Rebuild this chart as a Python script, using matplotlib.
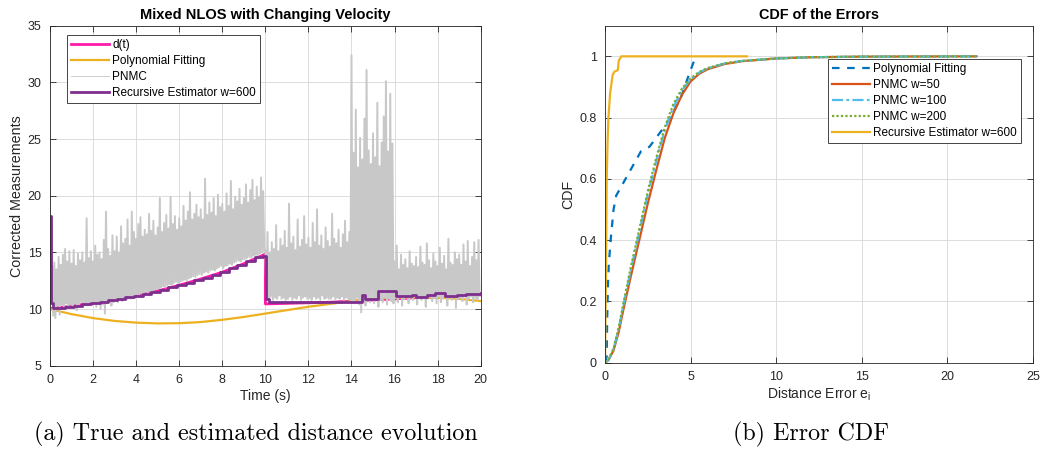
import numpy as np
import matplotlib
matplotlib.use("Agg")
from matplotlib import pyplot as plt

plt.rcParams["font.family"] = ["Liberation Sans", "DejaVu Sans"]
plt.rcParams["mathtext.default"] = "regular"

# ---- panel (a): distance evolution ----
d_t = [0, 1, 2, 3, 4, 5, 6, 7, 8, 9, 10, 10, 11, 12, 13, 14, 15, 16, 17, 18, 19, 20]
d_v = [10.05, 10.25, 10.55, 10.85, 11.2, 11.6, 12.1, 12.65, 13.25, 14.0, 14.85,
       10.45, 10.5, 10.55, 10.6, 10.7, 10.8, 10.9, 11.0, 11.05, 11.15, 11.25]

poly_t = list(range(21))
poly_v = [10.0, 9.55, 9.2, 8.95, 8.8, 8.73, 8.75, 8.85, 9.05, 9.3, 9.6,
          9.9, 10.2, 10.45, 10.7, 10.9, 11.0, 11.05, 11.0, 10.9, 10.7]

# PNMC: picos y valles leidos cada 0.1 s
pnmc_picos = [
    13.2, 13.8, 14.1, 13.5, 14.6, 13.9, 14.8, 15.3, 14.2, 15.1,
    14.0, 15.2, 13.8, 14.9, 14.3, 15.0, 14.1, 18.0, 14.5, 15.1,
    14.2, 15.6, 14.8, 15.0, 14.4, 16.1, 18.6, 15.3, 14.7, 16.5,
    15.1, 16.4, 15.0, 17.3, 15.8, 16.2, 17.9, 15.6, 18.6, 16.8,
    16.2, 17.5, 18.1, 16.4, 17.0, 16.6, 18.4, 16.9, 17.8, 16.5,
    17.2, 19.8, 16.8, 17.6, 18.3, 17.1, 19.9, 17.5, 18.2, 17.0,
    18.0, 17.3, 19.1, 17.8, 18.6, 20.3, 17.9, 18.4, 19.2, 18.1,
    18.8, 17.9, 21.5, 18.3, 19.4, 18.5, 19.8, 18.2, 20.1, 19.0,
    19.3, 18.6, 20.2, 19.1, 21.3, 18.8, 19.9, 19.5, 20.6, 19.2,
    19.8, 21.0, 19.4, 20.5, 21.4, 19.6, 20.8, 19.9, 21.6, 20.4,
    15.2, 16.8, 15.0, 15.9, 15.3, 17.4, 15.1, 16.2, 15.6, 16.9,
    15.4, 19.3, 15.8, 16.4, 15.2, 17.9, 15.5, 16.1, 18.2, 15.7,
    16.3, 15.4, 17.6, 15.9, 18.8, 15.6, 16.5, 15.3, 17.2, 16.0,
    15.5, 18.4, 16.2, 15.8, 17.0, 15.4, 16.6, 17.8, 15.9, 16.8,
    32.4, 23.8, 27.6, 22.5, 25.1, 23.2, 26.8, 31.1, 24.0, 22.8,
    25.5, 23.4, 28.2, 22.6, 24.7, 27.0, 30.1, 23.9, 29.0, 24.6,
    14.2, 15.6, 13.5, 14.8, 13.9, 14.4, 13.6, 15.1, 14.0, 13.8,
    14.6, 13.7, 15.5, 14.1, 13.9, 15.8, 14.3, 13.6, 14.9, 14.2,
    13.8, 15.4, 14.0, 14.7, 13.5, 16.2, 14.1, 13.9, 15.0, 14.4,
    14.8, 13.9, 15.7, 14.2, 16.0, 13.8, 14.6, 15.9, 14.3, 16.1,
]
pnmc_valles = [
    10.6, 9.4, 9.2, 10.3, 9.5, 10.4, 10.1, 10.5, 10.2, 10.4,
    10.3, 10.5, 9.9, 10.4, 10.6, 10.2, 10.5, 10.3, 10.6, 10.4,
    10.5, 10.2, 10.6, 10.0, 10.4, 9.6, 10.5, 10.7, 10.3, 10.6,
    10.8, 10.6, 10.9, 10.7, 11.0, 10.8, 11.1, 10.9, 11.0, 11.2,
    11.3, 11.2, 11.4, 11.3, 11.5, 11.4, 11.6, 11.5, 11.7, 11.8,
    11.8, 11.9, 12.0, 11.9, 12.1, 12.2, 12.1, 12.3, 12.4, 12.3,
    12.4, 12.5, 12.6, 12.5, 12.7, 12.8, 12.9, 12.8, 13.0, 13.1,
    13.0, 13.2, 13.3, 13.2, 13.4, 13.5, 13.4, 13.6, 13.7, 13.8,
    13.6, 13.8, 13.9, 14.0, 13.9, 14.1, 14.2, 14.3, 14.2, 14.4,
    14.4, 14.5, 14.6, 14.5, 14.7, 14.8, 14.7, 14.9, 15.0, 15.1,
    11.0, 10.9, 11.1, 10.8, 11.0, 10.9, 11.2, 10.9, 11.0, 10.8,
    10.9, 11.1, 10.8, 11.0, 10.9, 11.2, 10.8, 11.0, 11.1, 10.9,
    11.0, 10.8, 11.1, 10.9, 11.0, 10.8, 11.2, 10.9, 11.0, 10.9,
    10.9, 11.1, 10.8, 11.0, 10.9, 11.1, 10.8, 11.0, 10.9, 10.8,
    10.7, 10.5, 11.0, 10.4, 9.7, 10.8, 10.3, 10.9, 10.6, 11.0,
    10.5, 10.9, 10.2, 10.8, 10.6, 11.0, 10.4, 10.9, 10.7, 10.5,
    11.0, 10.6, 11.1, 10.3, 10.9, 11.2, 10.5, 11.0, 10.8, 11.1,
    10.4, 11.0, 10.8, 11.2, 10.2, 10.9, 11.1, 10.7, 11.0, 10.5,
    11.1, 10.6, 10.9, 11.2, 10.3, 11.0, 10.8, 11.1, 10.1, 10.9,
    11.0, 10.7, 11.2, 10.4, 10.9, 11.1, 10.6, 11.0, 10.8, 11.2,
]

rec_t = [0, 0.05, 0.15, 0.7, 1.1, 1.5, 1.9, 2.3, 2.7, 3.1, 3.5, 3.9, 4.3, 4.7,
         5.1, 5.5, 5.9, 6.3, 6.7, 7.1, 7.5, 7.9, 8.3, 8.7, 9.1, 9.5, 9.9,
         10.02, 10.15, 14.5, 14.65, 15.25, 16.05, 16.8, 17.0, 17.5, 17.9,
         18.35, 18.9, 19.3, 20.0]
rec_v = [18.2, 10.5, 10.1, 10.18, 10.29, 10.41, 10.53, 10.65, 10.77, 10.9,
         11.05, 11.19, 11.35, 11.51, 11.7, 11.9, 12.1, 12.33, 12.55, 12.78,
         13.02, 13.28, 13.58, 13.88, 14.2, 14.55, 14.7,
         10.9, 10.65, 11.2, 10.9, 11.6, 11.15, 11.25, 11.1, 11.2, 11.4,
         11.15, 11.25, 11.3, 11.4]

# ---- panel (b): CDF de errores ----
poly_e = [0, 0.1, 0.13, 0.17, 0.22, 0.33, 0.5, 0.65, 0.9, 1.5, 2.1, 2.6, 3.6, 4.4, 4.9, 5.3]
poly_cdf = [0, 0.02, 0.15, 0.25, 0.32, 0.40, 0.50, 0.545, 0.57, 0.63, 0.69, 0.705, 0.78, 0.86, 0.94, 1.0]

pnmc_e = [0, 0.2, 0.5, 0.8, 1.1, 1.5, 2.0, 2.5, 3.0, 3.5, 4.0, 4.5, 5.0, 5.5,
          6.0, 7.0, 8.0, 10.0, 12.0, 15.0, 21.7]
pnmc50_cdf = [0, 0.008, 0.04, 0.10, 0.18, 0.28, 0.40, 0.52, 0.63, 0.735, 0.815,
              0.875, 0.918, 0.943, 0.958, 0.975, 0.984, 0.993, 0.997, 0.999, 1.0]
pnmc100_cdf = [0, 0.009, 0.045, 0.11, 0.195, 0.30, 0.425, 0.55, 0.66, 0.76, 0.835,
               0.89, 0.925, 0.947, 0.961, 0.977, 0.985, 0.993, 0.997, 0.999, 1.0]
pnmc200_cdf = [0, 0.01, 0.047, 0.115, 0.20, 0.31, 0.435, 0.56, 0.67, 0.77, 0.845,
               0.895, 0.928, 0.949, 0.962, 0.977, 0.985, 0.993, 0.997, 0.999, 1.0]

rec_e = [0, 0.06, 0.1, 0.15, 0.2, 0.3, 0.45, 0.55, 0.75, 0.8, 0.95, 8.3]
rec_cdf = [0, 0.3, 0.6, 0.72, 0.8, 0.88, 0.94, 0.95, 0.955, 0.985, 1.0, 1.0]


def estilo(ax):
    ax.grid(True, color="#dcdcdc", linewidth=0.7)
    ax.set_axisbelow(True)
    for s in ax.spines.values():
        s.set_color("#262626")
        s.set_linewidth(0.6)
    ax.tick_params(direction="in", top=True, right=True, length=4, width=0.6,
                   colors="#262626", labelsize=9, pad=6)


def leyenda(ax, loc, anchor):
    leg = ax.legend(loc=loc, bbox_to_anchor=anchor, borderaxespad=0,
                    fontsize=8.5, handlelength=3.2, handletextpad=0.3,
                    labelspacing=0.33, borderpad=0.35, fancybox=False,
                    framealpha=1, edgecolor="#262626")
    leg.get_frame().set_linewidth(0.6)
    return leg


fig = plt.figure(figsize=(10.45, 4.51), dpi=100)

# Panel izquierdo
ax1 = fig.add_axes([0.04785, 0.18914, 0.41215, 0.75388])
estilo(ax1)

# Intercala picos y valles para la senal ruidosa
pnmc_t = np.empty(400)
pnmc_t[0::2] = np.arange(200) * 0.1
pnmc_t[1::2] = np.arange(200) * 0.1 + 0.05
pnmc_v = np.empty(400)
pnmc_v[0::2] = pnmc_picos
pnmc_v[1::2] = pnmc_valles

ax1.plot(d_t, d_v, color="#FF1AA8", lw=2.0, label="d(t)")
ax1.plot(poly_t, poly_v, color="#EDB120", lw=1.6, label="Polynomial Fitting")
ax1.plot(pnmc_t, pnmc_v, color="#C8C8C8", lw=1.4, label="PNMC")
ax1.plot(rec_t, rec_v, color="#7E2F8E", lw=2.0, drawstyle="steps-post",
         label="Recursive Estimator w=600")

ax1.set_xlim(0, 20)
ax1.set_ylim(5, 35)
ax1.set_xticks(range(0, 21, 2))
ax1.set_yticks(range(5, 36, 5))
ax1.set_xlabel("Time (s)", fontsize=10, color="#262626", labelpad=2)
ax1.set_ylabel("Corrected Measurements", fontsize=10.3, color="#262626", labelpad=3)
ax1.set_title("Mixed NLOS with Changing Velocity", fontsize=10.5, fontweight="bold", pad=5)
leg1 = leyenda(ax1, "upper left", (0.039, 0.973))
leg1.get_lines()[2].set_linewidth(0.6)

# Panel derecho
ax2 = fig.add_axes([0.57895, 0.19579, 0.40957, 0.74723])
estilo(ax2)

ax2.plot(poly_e, poly_cdf, color="#0072BD", lw=1.6, ls=(0, (3.4, 3.4)),
         label="Polynomial Fitting")
ax2.plot(pnmc_e, pnmc50_cdf, color="#D95319", lw=1.6, label="PNMC w=50")
ax2.plot(pnmc_e, pnmc100_cdf, color="#4DBEEE", lw=1.6, ls=(0, (5, 1.5, 1.2, 1.5)),
         label="PNMC w=100")
ax2.plot(pnmc_e, pnmc200_cdf, color="#77AC30", lw=1.6, ls=(0, (1, 1)),
         label="PNMC w=200")
ax2.plot(rec_e, rec_cdf, color="#EDB120", lw=1.6, label="Recursive Estimator w=600")

ax2.set_xlim(0, 25)
ax2.set_ylim(0, 1.1)
ax2.set_xticks(range(0, 26, 5))
ax2.set_yticks([0, 0.2, 0.4, 0.6, 0.8, 1])
ax2.set_yticklabels(["0", "0.2", "0.4", "0.6", "0.8", "1"])
ax2.set_xlabel("Distance Error e$_{i}$", fontsize=10, color="#262626", labelpad=2)
ax2.set_ylabel("CDF", fontsize=10.3, color="#262626", labelpad=3)
ax2.set_title("CDF of the Errors", fontsize=10.4, fontweight="bold", pad=5)
leyenda(ax2, "upper right", (0.972, 0.901))

# Subtitulos de las subfiguras
fig.text(256 / 1045, 1 - 434 / 451, "(a) True and estimated distance evolution",
         family="cmr10", fontsize=17.3, ha="center", va="center")
fig.text(811 / 1045, 1 - 434 / 451, "(b) Error CDF",
         family="cmr10", fontsize=17.3, ha="center", va="center")

fig.savefig("out.png", dpi=100)
